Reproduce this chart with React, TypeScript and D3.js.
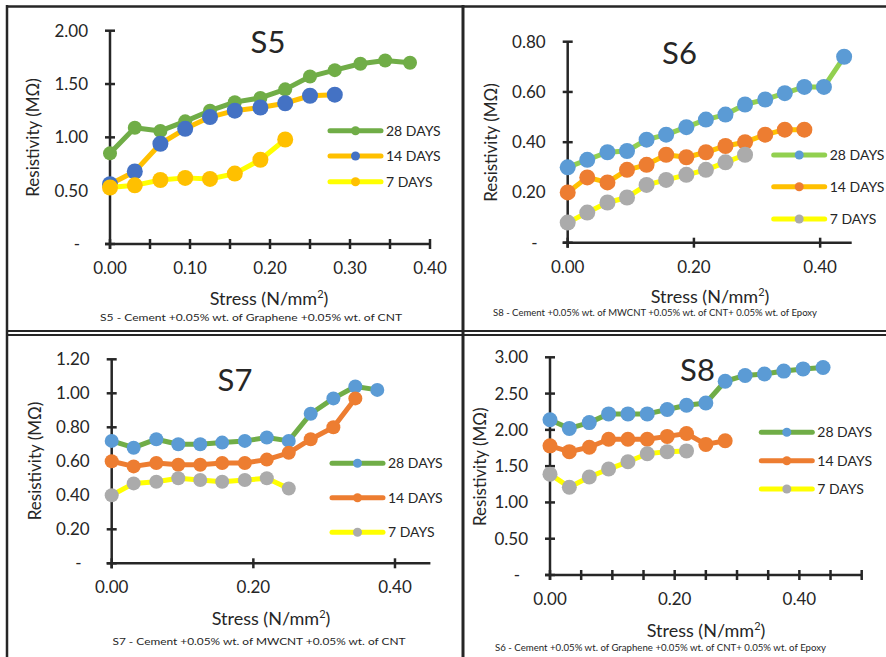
import * as d3 from "d3";

// stress steps (N/mm2) shared by all four samples
const stress = [0, 0.031, 0.063, 0.094, 0.125, 0.156, 0.188, 0.219, 0.25, 0.281, 0.313, 0.344, 0.375, 0.406, 0.438];

const seriesNames = ["28 DAYS", "14 DAYS", "7 DAYS"];

// S5 resistivity (MOhm)
const s5Day28 = [0.85, 1.09, 1.06, 1.15, 1.25, 1.33, 1.37, 1.45, 1.57, 1.63, 1.69, 1.72, 1.70];
const s5Day14 = [0.56, 0.68, 0.94, 1.08, 1.19, 1.25, 1.28, 1.32, 1.39, 1.40];
const s5Day7 = [0.53, 0.55, 0.60, 0.62, 0.61, 0.66, 0.79, 0.98];

// S6
const s6Day28 = [0.30, 0.33, 0.36, 0.365, 0.41, 0.43, 0.46, 0.49, 0.51, 0.55, 0.57, 0.595, 0.62, 0.62, 0.74];
const s6Day14 = [0.20, 0.26, 0.24, 0.29, 0.31, 0.35, 0.34, 0.36, 0.385, 0.40, 0.43, 0.45, 0.45];
const s6Day7 = [0.08, 0.12, 0.16, 0.18, 0.23, 0.25, 0.27, 0.29, 0.32, 0.35];

// S7
const s7Day28 = [0.72, 0.68, 0.73, 0.70, 0.70, 0.71, 0.72, 0.74, 0.72, 0.88, 0.97, 1.04, 1.02];
const s7Day14 = [0.60, 0.57, 0.59, 0.58, 0.58, 0.59, 0.59, 0.61, 0.65, 0.73, 0.80, 0.97];
const s7Day7 = [0.40, 0.47, 0.48, 0.50, 0.49, 0.48, 0.49, 0.50, 0.44];

// S8
const s8Day28 = [2.14, 2.02, 2.10, 2.22, 2.22, 2.22, 2.28, 2.34, 2.37, 2.67, 2.75, 2.77, 2.81, 2.84, 2.86];
const s8Day14 = [1.78, 1.70, 1.76, 1.87, 1.87, 1.87, 1.91, 1.95, 1.80, 1.85];
const s8Day7 = [1.39, 1.21, 1.35, 1.46, 1.56, 1.67, 1.70, 1.71];

// axis ticks
const s5YTicks = [0, 0.5, 1, 1.5, 2];
const s5XTicks = [0, 0.05, 0.1, 0.15, 0.2, 0.25, 0.3, 0.35, 0.4];
const s5XLabels = [0, 0.1, 0.2, 0.3, 0.4];
const s6YTicks = [0, 0.2, 0.4, 0.6, 0.8];
const s6XTicks = [0, 0.2, 0.4];
const s7YTicks = [0, 0.2, 0.4, 0.6, 0.8, 1.0, 1.2];
const s7XTicks = [0, 0.2, 0.4];
const s8YTicks = [0, 0.5, 1, 1.5, 2, 2.5, 3];
const s8XTicks = [0, 0.05, 0.1, 0.15, 0.2, 0.25, 0.3, 0.35, 0.4, 0.45, 0.5];
const s8XLabels = [0, 0.2, 0.4];

const green = "#70AD47", lightGreen = "#92D050", blue = "#4472C4", lightBlue = "#5B9BD5";
const orange = "#ED7D31", gold = "#FFC000", yellow = "#FFFF00", gray = "#ABABAB";
const ink = "#262626";
const font = "Lato, 'Open Sans', sans-serif";

const fmt = (v) => (v === 0 ? "-" : v.toFixed(2));

const panels = [
  {
    title: "S5", titleX: 268, titleY: 53,
    caption: "S5 - Cement +0.05% wt. of Graphene +0.05% wt. of CNT", capX: 251, capY: 321, capLen: 302, capSize: 10,
    xDomain: [0, 0.4], xRange: [110, 430], yDomain: [0, 2], yRange: [244, 30.7],
    yTicks: s5YTicks, xTicks: s5XTicks, xLabels: s5XLabels,
    yTitle: [33, 137.5], xTitle: [269, 305],
    legendX: 328, legendY: [130.7, 156, 181.7],
    series: [
      { values: s5Day28, line: green, marker: green, r: 7 },
      { values: s5Day14, line: gold, marker: blue, r: 8 },
      { values: s5Day7, line: yellow, marker: gold, r: 8 },
    ],
  },
  {
    title: "S6", titleX: 679.5, titleY: 63.5,
    caption: "S8 - Cement +0.05% wt. of MWCNT +0.05% wt. of CNT+ 0.05% wt. of Epoxy", capX: 655, capY: 316, capLen: 324, capSize: 8.5,
    xDomain: [0, 0.45], xRange: [567.7, 851.7], yDomain: [0, 0.8], yRange: [242.7, 41.7],
    yTicks: s6YTicks, xTicks: s6XTicks, xLabels: s6XTicks,
    yTitle: [491.7, 142.5], xTitle: [710, 303],
    legendX: 771.7, legendY: [155, 186.7, 219],
    series: [
      { values: s6Day28, line: lightGreen, marker: lightBlue, r: 8 },
      { values: s6Day14, line: gold, marker: orange, r: 8 },
      { values: s6Day7, line: yellow, marker: gray, r: 8 },
    ],
  },
  {
    title: "S7", titleX: 235, titleY: 391,
    caption: "S7 - Cement +0.05% wt. of MWCNT +0.05% wt. of CNT", capX: 259, capY: 645, capLen: 293, capSize: 10,
    xDomain: [0, 0.45], xRange: [111.7, 430.4], yDomain: [0, 1.2], yRange: [563.3, 359.3],
    yTicks: s7YTicks, xTicks: s7XTicks, xLabels: s7XTicks,
    yTitle: [35, 461], xTitle: [271, 625],
    legendX: 330, legendY: [463.3, 497.7, 532.3],
    series: [
      { values: s7Day28, line: green, marker: lightBlue, r: 7 },
      { values: s7Day14, line: orange, marker: orange, r: 7 },
      { values: s7Day7, line: yellow, marker: gray, r: 7 },
    ],
  },
  {
    title: "S8", titleX: 697.5, titleY: 380.7,
    caption: "S6 - Cement +0.05% wt. of Graphene +0.05% wt. of CNT+ 0.05% wt. of Epoxy", capX: 660.5, capY: 651, capLen: 331, capSize: 8.5,
    xDomain: [0, 0.5], xRange: [550, 861.7], yDomain: [0, 3], yRange: [575, 357.3],
    yTicks: s8YTicks, xTicks: s8XTicks, xLabels: s8XLabels,
    yTitle: [480, 466.7], xTitle: [706, 636.5],
    legendX: 759.3, legendY: [432.3, 460.7, 489],
    series: [
      { values: s8Day28, line: green, marker: lightBlue, r: 7.5 },
      { values: s8Day14, line: orange, marker: orange, r: 7.5 },
      { values: s8Day7, line: yellow, marker: gray, r: 7.5 },
    ],
  },
];

const Panel = ({ p }) => {
  const x = d3.scaleLinear().domain(p.xDomain).range(p.xRange);
  const y = d3.scaleLinear().domain(p.yDomain).range(p.yRange);
  const x0 = x(0), y0 = y(0);
  const yTop = y(p.yDomain[1]);
  const xEnd = x(p.xDomain[1]);

  const line = d3
    .line()
    .x((d, i) => x(stress[i]))
    .y((d) => y(d));

  return (
    <g fontFamily={font} fill={ink}>
      {/* axes */}
      <line x1={x0} x2={x0} y1={yTop} y2={y0 + 5} stroke={ink} strokeWidth={2.5} />
      <line x1={x0 - 5} x2={xEnd} y1={y0} y2={y0} stroke={ink} strokeWidth={2.5} />
      {p.yTicks.map((t) => (
        <g key={"y" + t}>
          <line x1={x0 - 5} x2={x0 + 5} y1={y(t)} y2={y(t)} stroke={ink} strokeWidth={2.5} />
          <text x={t === 0 ? x0 - 30 : x0 - 22} y={y(t) + 6} textAnchor="end" fontSize={17}>
            {fmt(t)}
          </text>
        </g>
      ))}
      {p.xTicks.map((t) => (
        <line key={"x" + t} x1={x(t)} x2={x(t)} y1={y0 - 5} y2={y0 + 5} stroke={ink} strokeWidth={2.5} />
      ))}
      {p.xLabels.map((t) => (
        <text key={"xl" + t} x={x(t)} y={y0 + 30} textAnchor="middle" fontSize={17}>
          {t.toFixed(2)}
        </text>
      ))}

      {/* series */}
      {p.series.map((s, k) => (
        <g key={k}>
          <path d={line(s.values)} fill="none" stroke={s.line} strokeWidth={5} strokeLinejoin="round" />
          {s.values.map((v, i) => (
            <circle key={i} cx={x(stress[i])} cy={y(v)} r={s.r} fill={s.marker} />
          ))}
        </g>
      ))}

      {/* legend */}
      {p.series.map((s, k) => (
        <g key={"lg" + k}>
          <line x1={p.legendX + 2} x2={p.legendX + 53} y1={p.legendY[k]} y2={p.legendY[k]}
            stroke={s.line} strokeWidth={5} strokeLinecap="round" />
          <circle cx={p.legendX + 27.5} cy={p.legendY[k]} r={4.5} fill={s.marker} />
          <text x={p.legendX + 58} y={p.legendY[k] + 5} fontSize={14}>{seriesNames[k]}</text>
        </g>
      ))}

      {/* titles */}
      <text x={p.titleX} y={p.titleY} textAnchor="middle" fontSize={31}>{p.title}</text>
      <text transform={`translate(${p.yTitle[0]},${p.yTitle[1]}) rotate(-90)`} y={5.5} textAnchor="middle" fontSize={17}>
        Resistivity (MΩ)
      </text>
      <text x={p.xTitle[0]} y={p.xTitle[1]} textAnchor="middle" fontSize={18}>
        Stress (N/mm<tspan fontSize={11} dy={-7}>2</tspan><tspan dy={7}>)</tspan>
      </text>
      <text x={p.capX} y={p.capY} textAnchor="middle" fontSize={p.capSize}
        textLength={p.capLen} lengthAdjust="spacingAndGlyphs">
        {p.caption}
      </text>
    </g>
  );
};

export default function App() {
  return (
    <svg width={886} height={657} style={{ position: "absolute", left: 0, top: 0, background: "#fff" }}>
      <rect width={886} height={657} fill="#fff" />
      {panels.map((p) => (
        <Panel key={p.title} p={p} />
      ))}
      {/* frame lines */}
      <line x1={6} x2={886} y1={6.5} y2={6.5} stroke={ink} strokeWidth={2.5} />
      <line x1={7} x2={7} y1={5} y2={657} stroke={ink} strokeWidth={2.5} />
      <line x1={463} x2={463} y1={5} y2={657} stroke={ink} strokeWidth={3} />
      <line x1={6} x2={886} y1={331} y2={331} stroke={ink} strokeWidth={2} />
      <line x1={6} x2={886} y1={335} y2={335} stroke={ink} strokeWidth={2} />
    </svg>
  );
}
